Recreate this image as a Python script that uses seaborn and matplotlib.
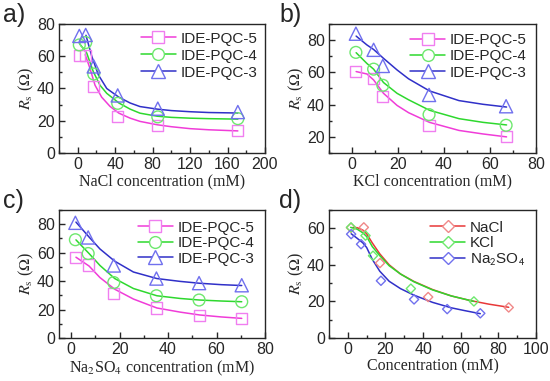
import numpy as np
import matplotlib
matplotlib.use("Agg")
import matplotlib.pyplot as plt
from matplotlib.lines import Line2D
from matplotlib.ticker import MultipleLocator
import seaborn as sns

# ---- data ----
# a) NaCl
nacl_x = [1.7, 8.5, 17.1, 42.7, 85.5, 171.0]
nacl_pqc5 = [60.3, 60.5, 41.0, 22.8, 16.8, 13.7]
nacl_pqc4 = [67.0, 68.5, 49.0, 30.8, 22.4, 21.3]
nacl_pqc3 = [72.6, 73.2, 53.7, 35.7, 27.5, 25.4]
# fitted curves
nacl_fit5_x = [8.0, 13.0, 18.5, 25.6, 34.5, 44.0, 56.0, 66.5, 85.0, 100.0, 120.0, 140.0, 171.0]
nacl_fit5 = [61.0, 52.6, 42.0, 34.6, 28.9, 24.7, 21.6, 19.6, 17.5, 16.3, 15.1, 14.4, 13.7]
nacl_fit4_x = [1.7, 9.6, 16.6, 23.8, 31.0, 44.0, 56.0, 66.5, 85.0, 100.0, 120.0, 140.0, 171.0]
nacl_fit4 = [68.0, 62.0, 50.5, 42.0, 37.0, 31.0, 27.2, 24.7, 22.8, 22.1, 21.6, 21.3, 21.0]
nacl_fit3_x = [8.8, 15.0, 22.0, 31.0, 44.0, 56.0, 66.5, 85.0, 100.0, 120.0, 140.0, 171.0]
nacl_fit3 = [73.0, 60.0, 48.5, 40.0, 34.6, 31.0, 28.8, 27.2, 26.3, 25.6, 25.1, 24.8]

# b) KCl
kcl_x = [1.7, 9.4, 13.4, 33.5, 67.0]
kcl_pqc5 = [60.5, 56.0, 45.0, 27.0, 20.0]
kcl_pqc4 = [72.4, 62.0, 52.0, 33.8, 27.2]
kcl_pqc3 = [84.0, 74.0, 64.0, 46.0, 39.0]
kcl_fit_x = [1.8, 6.5, 9.4, 13.7, 19.6, 24.6, 33.7, 46.5, 57.0, 67.2]
kcl_fit5 = [60.5, 59.0, 55.3, 47.0, 39.5, 35.0, 29.0, 24.0, 21.8, 20.0]
kcl_fit4 = [72.2, 65.5, 62.0, 53.7, 47.0, 43.0, 36.5, 31.3, 29.0, 27.4]
kcl_fit3 = [82.5, 77.0, 74.2, 68.7, 61.5, 56.0, 48.5, 42.5, 40.2, 38.5]

# c) Na2SO4
na2so4_x = [1.76, 7.04, 17.6, 35.2, 52.8, 70.4]
na2so4_pqc5 = [56.8, 51.3, 31.3, 21.1, 15.8, 13.5]
na2so4_pqc4 = [69.1, 59.4, 39.0, 29.7, 26.7, 25.5]
na2so4_pqc3 = [81.0, 70.7, 51.0, 41.8, 38.6, 37.1]
na2so4_fit_x = [2.0, 7.4, 11.9, 18.0, 25.7, 35.4, 45.0, 53.0, 62.0, 70.4]
na2so4_fit5 = [56.8, 50.6, 42.5, 34.3, 27.4, 21.1, 18.2, 16.2, 14.8, 13.8]
na2so4_fit4 = [69.0, 59.4, 51.0, 41.8, 34.8, 29.7, 27.8, 26.7, 26.0, 25.5]
na2so4_fit3 = [81.5, 71.0, 62.6, 54.0, 46.4, 41.8, 39.8, 38.5, 37.5, 36.9]

# d) IDE-PQC-5 in the three salts
d_nacl_x = [1.7, 8.5, 17.1, 42.7, 85.5]
d_nacl = [60.3, 60.5, 41.0, 22.4, 16.7]
d_fit_red_x = [2.8, 5.0, 8.0, 10.0, 13.0, 17.0, 22.0, 28.0, 35.0, 45.0, 55.0, 65.0, 75.0, 85.5]
d_fit_red = [60.5, 60.3, 59.0, 57.0, 52.0, 46.0, 40.0, 35.0, 31.0, 26.5, 23.0, 20.5, 18.5, 16.8]
d_fit_green_x = [1.5, 5.0, 8.0, 10.0, 13.0, 17.0, 22.0, 28.0, 35.0, 45.0, 55.0, 67.0]
d_fit_green = [60.5, 59.5, 57.5, 55.5, 50.0, 45.0, 39.5, 35.0, 30.8, 26.3, 23.0, 20.0]
d_fit_blue_x = [1.8, 5.0, 8.0, 10.0, 13.0, 17.0, 22.0, 28.0, 35.0, 45.0, 55.0, 62.0, 70.4]
d_fit_blue = [57.0, 54.5, 52.0, 49.5, 43.0, 36.5, 31.0, 27.0, 23.5, 19.5, 16.5, 15.0, 13.3]

series_labels = ["IDE-PQC-5", "IDE-PQC-4", "IDE-PQC-3"]
salt_labels = ["NaCl", "KCl", r"Na$_\mathsf{2}$SO$_\mathsf{4}$"]

# ---- style ----
sns.set_style("ticks")
plt.rcParams['font.family'] = ['Liberation Sans', 'DejaVu Sans']
plt.rcParams['mathtext.fontset'] = 'stix'
plt.rcParams['axes.linewidth'] = 1.0

pink_line, pink_mk = "#f03cd8", "#f07ef0"
green_line, green_mk = "#2ed82e", "#6ee86e"
blue_line, blue_mk = "#3030c8", "#7070ee"
red_line, red_mk = "#e83838", "#f08888"

fig = plt.figure(figsize=(5.5, 3.81), dpi=100)
W, H = 550, 381


def make_ax(x0, y0, x1, y1):
    return fig.add_axes([x0 / W, 1 - y1 / H, (x1 - x0) / W, (y1 - y0) / H])


ax_a = make_ax(59, 24, 265, 153)
ax_b = make_ax(329, 24, 536, 153)
ax_c = make_ax(59, 210, 265, 338)
ax_d = make_ax(329, 210, 536, 338)

serif = ['Liberation Serif', 'DejaVu Serif']
ylab = r'$R_{\rm s}$ ($\Omega$)'


def style_ax(ax, xlim, ylim, xmaj, ymaj, xlabel):
    ax.set_xlim(*xlim)
    ax.set_ylim(*ylim)
    ax.xaxis.set_major_locator(MultipleLocator(xmaj))
    ax.xaxis.set_minor_locator(MultipleLocator(xmaj / 2))
    ax.yaxis.set_major_locator(MultipleLocator(ymaj))
    ax.yaxis.set_minor_locator(MultipleLocator(ymaj / 2))
    ax.tick_params(which='both', direction='in', top=False, right=False,
                   labelsize=11.5, width=1.0, pad=3)
    ax.tick_params(which='major', length=4)
    ax.tick_params(which='minor', length=2.5)
    ax.set_xlabel(xlabel, family=serif, fontsize=11.5, labelpad=1)
    ax.set_ylabel(ylab, family=serif, fontsize=11.5, labelpad=1)
    for s in ax.spines.values():
        s.set_visible(True)


def draw_panel(ax, xs, ys, fits, colors, markers, sizes, labels,
               leg_ms=None, spacing=0.1, pad=0.3):
    for x, y, (fx, fy), (lc, mc), mk, ms in zip(xs, ys, fits, colors, markers, sizes):
        sns.lineplot(x=fx, y=fy, ax=ax, color=lc, lw=1.1, sort=False,
                     estimator=None)
        ax.scatter(x, y, marker=mk, s=ms, facecolors='none',
                   edgecolors=mc, linewidths=1.0, zorder=3)
    handles = [Line2D([], [], color=lc, lw=1.1, marker=mk,
                      markersize=leg_ms or np.sqrt(ms), markerfacecolor='white',
                      markeredgecolor=mc, markeredgewidth=1.0)
               for (lc, mc), mk, ms in zip(colors, markers, sizes)]
    ax.legend(handles, labels, loc='upper right', frameon=False,
              fontsize=11, handlelength=2.3, handletextpad=0.3,
              labelspacing=spacing, borderaxespad=pad)


cols3 = [(pink_line, pink_mk), (green_line, green_mk), (blue_line, blue_mk)]
mk3 = ['s', 'o', '^']
sz3 = [64, 72, 90]

# a) NaCl
draw_panel(ax_a, [nacl_x] * 3, [nacl_pqc5, nacl_pqc4, nacl_pqc3],
           [(nacl_fit5_x, nacl_fit5), (nacl_fit4_x, nacl_fit4),
            (nacl_fit3_x, nacl_fit3)], cols3, mk3, sz3, series_labels,
           spacing=0.2, pad=0.1)
style_ax(ax_a, (-20, 200), (0, 80), 40, 20, "NaCl concentration (mM)")

# b) KCl
draw_panel(ax_b, [kcl_x] * 3, [kcl_pqc5, kcl_pqc4, kcl_pqc3],
           [(kcl_fit_x, kcl_fit5), (kcl_fit_x, kcl_fit4),
            (kcl_fit_x, kcl_fit3)], cols3, mk3, sz3, series_labels,
           spacing=0.15, pad=0.2)
style_ax(ax_b, (-10, 80), (10, 90), 20, 20, "KCl concentration (mM)")

# c) Na2SO4
draw_panel(ax_c, [na2so4_x] * 3, [na2so4_pqc5, na2so4_pqc4, na2so4_pqc3],
           [(na2so4_fit_x, na2so4_fit5), (na2so4_fit_x, na2so4_fit4),
            (na2so4_fit_x, na2so4_fit3)], cols3, mk3, sz3, series_labels)
style_ax(ax_c, (-5, 80), (0, 90), 20, 20,
         r"Na$_2$SO$_4$ concentration (mM)")

# d) comparison of salts for IDE-PQC-5
draw_panel(ax_d, [d_nacl_x, kcl_x, na2so4_x], [d_nacl, kcl_pqc5, na2so4_pqc5],
           [(d_fit_red_x, d_fit_red), (d_fit_green_x, d_fit_green),
            (d_fit_blue_x, d_fit_blue)],
           [(red_line, red_mk), (green_line, green_mk), (blue_line, blue_mk)],
           ['D', 'D', 'D'], [22, 22, 22], salt_labels, leg_ms=6.5)
style_ax(ax_d, (-10, 100), (0, 70), 20, 20, "Concentration (mM)")

# panel letters
for lab, x, y in [("a)", 3, 3), ("b)", 279, 3), ("c)", 3, 189), ("d)", 279, 189)]:
    fig.text(x / W, 1 - y / H, lab, fontsize=18, va='top', ha='left')

fig.savefig("out.png", dpi=100)
